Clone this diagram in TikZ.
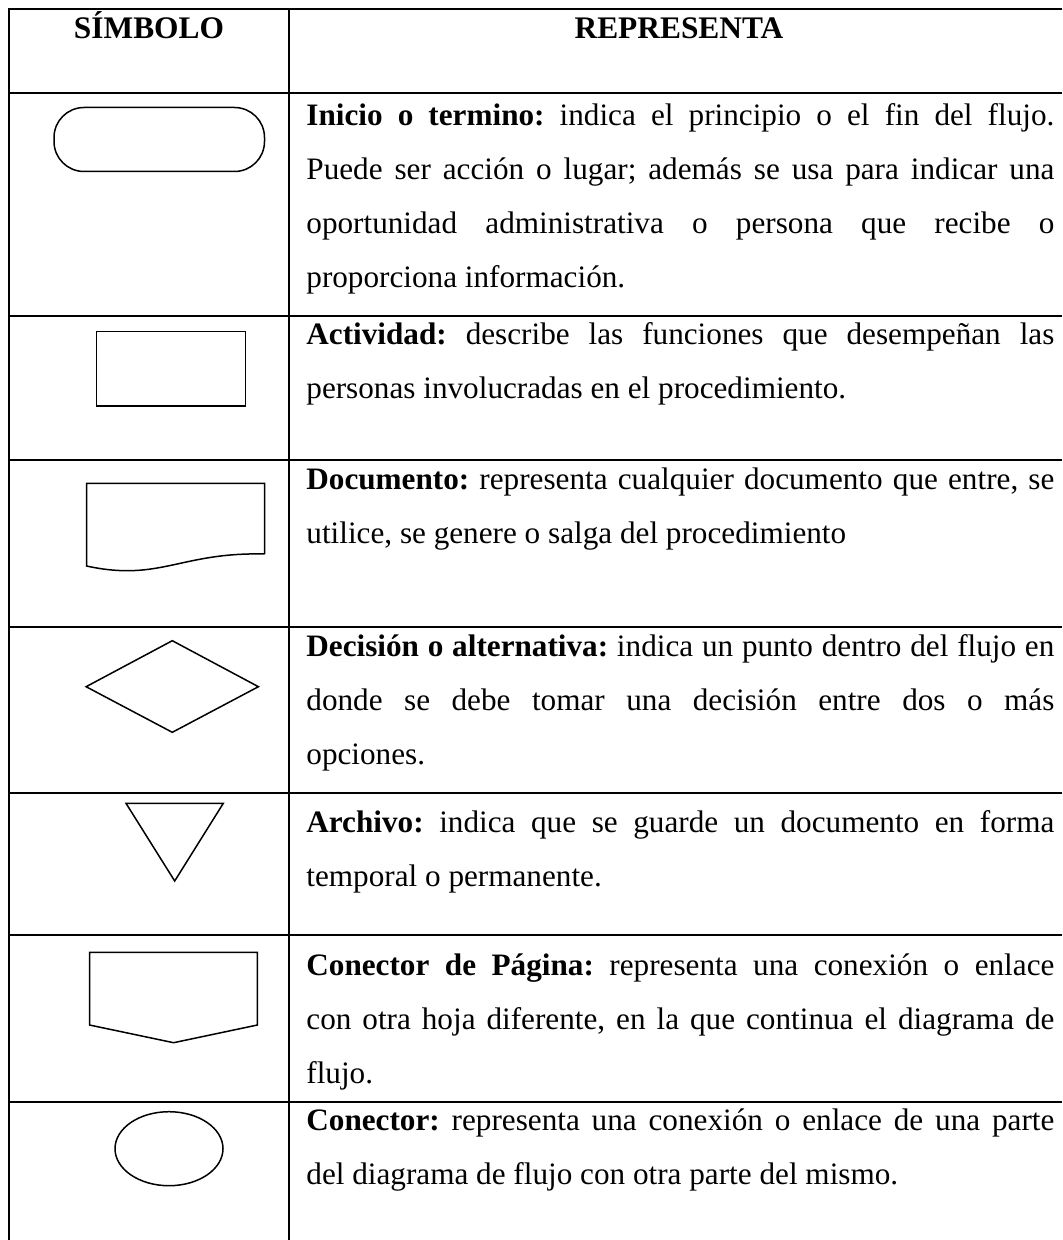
\documentclass[tikz,border=0pt]{standalone}
\usepackage{fontspec}
\setmainfont{Liberation Serif}
\tolerance=10000
\hbadness=10000
\frenchspacing

\begin{document}
\begin{tikzpicture}[x=0.5pt, y=-0.5pt,
        rule/.style={line width=1pt},
        symb/.style={draw, line width=0.75pt},
        head/.style={font=\fontsize{15.7}{27}\selectfont\bfseries, inner sep=0pt, anchor=base},
        desc/.style={font=\fontsize{15.6}{27}\selectfont, text width=374pt, align=justify, inner sep=0pt, anchor=base west}
    ]
        \useasboundingbox (0,0) rectangle (1062,1240);
        \draw[rule] (1062,9) -- (9,9) -- (9,1240);
        \draw[rule] (289,9) -- (289,1240);
        \foreach \y in {93,316,460,627,793,935,1102}
            \draw[rule] (9,\y) -- (1062,\y);

        \node[head] (simbolo) at (149,39) {SÍMBOLO};
        \node[head] (representa) at (679,39) {REPRESENTA};

        \draw[symb, rounded corners=15pt] (54,107.5) rectangle (264.5,171.5);
        \draw[symb] (96.3,331.7) rectangle (245.6,406);
        \draw[symb] (264.5,554) -- (264.5,483.3) -- (86.5,483.3) -- (86.5,566) .. controls (160,582) and (180,552) .. (264.5,554);
        \draw[symb] (86.1,686.7) -- (172.3,640.7) -- (258.4,686.7) -- (172.3,732.3) -- cycle;
        \draw[symb] (126,803.3) -- (223.3,803.3) -- (174.7,881) -- cycle;
        \draw[symb] (89.5,952.3) -- (257.4,952.3) -- (257.4,1025) -- (173.6,1042.7) -- (89.5,1025) -- cycle;
        \draw[symb] (169,1148.7) ellipse [x radius=27pt, y radius=18.5pt];

        \node[desc] (inicio) at (306,126) {\textbf{Inicio o termino:} indica el principio o el fin del flujo.\linebreak Puede ser acción o lugar; además se usa para indicar una\linebreak oportunidad administrativa o persona que recibe o\linebreak proporciona información.};
        \node[desc] (actividad) at (306,345) {\textbf{Actividad:} describe las funciones que desempeñan las\linebreak personas involucradas en el procedimiento.};
        \node[desc] (documento) at (306,489) {\textbf{Documento:} representa cualquier documento que entre, se\linebreak utilice, se genere o salga del procedimiento};
        \node[desc] (decision) at (306,656) {\textbf{Decisión o alternativa:} indica un punto dentro del flujo en\linebreak donde se debe tomar una decisión entre dos o más\linebreak opciones.};
        \node[desc] (archivo) at (306,832) {\textbf{Archivo:} indica que se guarde un documento en forma\linebreak temporal o permanente.};
        \node[desc] (conpagina) at (306,975) {\textbf{Conector de Página:} representa una conexión o enlace\linebreak con otra hoja diferente, en la que continua el diagrama de\linebreak flujo.};
        \node[desc] (conector) at (306,1130) {\textbf{Conector:} representa una conexión o enlace de una parte\linebreak del diagrama de flujo con otra parte del mismo.};
    \end{tikzpicture}
\end{document}
